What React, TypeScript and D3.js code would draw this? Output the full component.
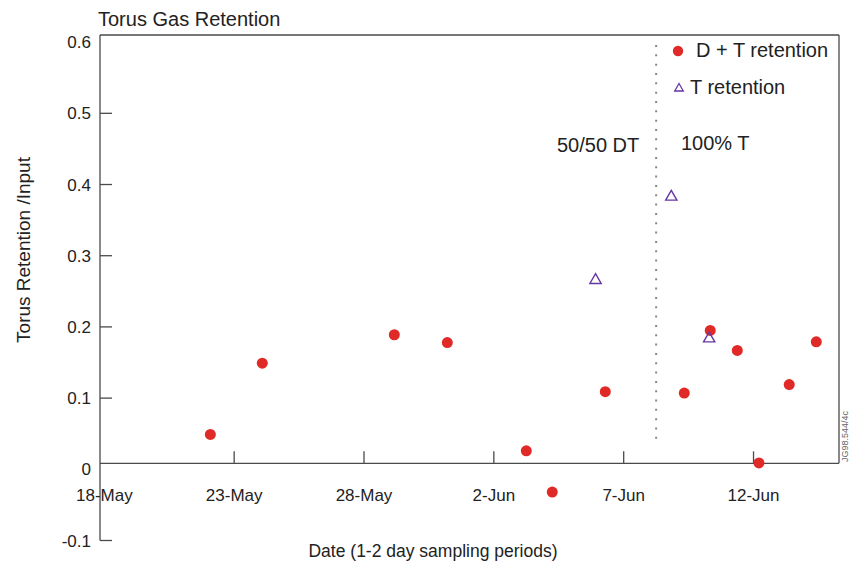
import React from "react";
import * as d3 from "d3";

// ---- data ----
const dtDates = [
  "1998-05-22T02:00Z", "1998-05-24T02:00Z", "1998-05-29T04:00Z", "1998-05-31T05:00Z",
  "1998-06-03T06:00Z", "1998-06-04T06:00Z", "1998-06-06T07:00Z", "1998-06-09T08:00Z",
  "1998-06-10T08:00Z", "1998-06-11T09:00Z", "1998-06-12T05:00Z", "1998-06-13T09:00Z",
  "1998-06-14T10:00Z",
];
const dtValues = [0.049, 0.149, 0.189, 0.178, 0.026, -0.032, 0.109, 0.107, 0.195, 0.167, 0.009, 0.119, 0.179];

const tDates = ["1998-06-05T22:00Z", "1998-06-08T20:00Z", "1998-06-10T07:00Z"];
const tValues = [0.267, 0.384, 0.185];

const xTickDates = ["1998-05-18T00:00Z", "1998-05-23T00:00Z", "1998-05-28T00:00Z", "1998-06-02T00:00Z", "1998-06-07T00:00Z", "1998-06-12T00:00Z"];
const xTickLabels = ["18-May", "23-May", "28-May", "2-Jun", "7-Jun", "12-Jun"];
const yTicks = [-0.1, 0, 0.1, 0.2, 0.3, 0.4, 0.5, 0.6];
const yTickLabels = ["-0.1", "0", "0.1", "0.2", "0.3", "0.4", "0.5", "0.6"];
const yTickMarks = [-0.1, 0.1, 0.2, 0.3, 0.4, 0.5];
const xDomain = ["1998-05-17T20:00Z", "1998-06-15T07:00Z"];
const yDomain = [-0.1, 0.61];
const xAxisAt = 0.0084;
const switchDate = "1998-06-08T06:00Z";

const FONT = "'Liberation Sans', Arial, Helvetica, sans-serif";
const RED = "#e02a27";
const PURPLE = "#6636a3";
const AXIS = "#4a4a4a";
const TEXT = "#222";

export default function App() {
  const p = (s: string) => new Date(s);
  const x = d3.scaleUtc().domain(xDomain.map(p)).range([100, 839]);
  const y = d3.scaleLinear().domain(yDomain).range([540.5, 35]);
  const y0 = y(xAxisAt);
  const tri = d3.symbol().type(d3.symbolTriangle).size(55)();
  const triLeg = d3.symbol().type(d3.symbolTriangle).size(32)();

  return (
    <svg width={850} height={564} style={{ position: "absolute", left: 0, top: 0, background: "#fff" }} fontFamily={FONT}>
      <text x={98} y={26} fontSize={20} fill={TEXT}>Torus Gas Retention</text>

      {/* frame & axes */}
      <line x1={100} x2={100} y1={35} y2={540.5} stroke={AXIS} strokeWidth={1.3} />
      <line x1={100} x2={839} y1={35} y2={35} stroke={AXIS} strokeWidth={1.3} />
      <line x1={839} x2={839} y1={35} y2={y0} stroke={AXIS} strokeWidth={1.3} />
      <line x1={100} x2={839} y1={y0} y2={y0} stroke={AXIS} strokeWidth={1.3} />

      {yTickMarks.map((v) => (
        <line key={"ym" + v} x1={100} x2={112} y1={y(v)} y2={y(v)} stroke={AXIS} strokeWidth={1.3} />
      ))}
      {yTicks.map((v, i) => (
        <text key={"yt" + v} x={91} y={y(v) + 6} textAnchor="end" fontSize={17} fill={TEXT}>
          {yTickLabels[i]}
        </text>
      ))}

      {xTickDates.map((d, i) => (
        <g key={"xt" + i}>
          {i > 0 && <line x1={x(p(d))} x2={x(p(d))} y1={y0} y2={y0 - 12} stroke={AXIS} strokeWidth={1.3} />}
          <text x={x(p(d))} y={501} textAnchor="middle" fontSize={17} fill={TEXT}>{xTickLabels[i]}</text>
        </g>
      ))}

      <text transform="translate(29.5,250) rotate(-90)" textAnchor="middle" fontSize={19} fill={TEXT}>Torus Retention /Input</text>
      <text x={433} y={557} textAnchor="middle" fontSize={17.5} fill={TEXT}>Date (1-2 day sampling periods)</text>

      {/* switch line */}
      <line x1={x(p(switchDate))} x2={x(p(switchDate))} y1={45} y2={443} stroke="#888" strokeWidth={2} strokeDasharray="2,7.33" />
      <text x={557} y={152} fontSize={20} fill={TEXT}>50/50 DT</text>
      <text x={681} y={150} fontSize={20} fill={TEXT}>100% T</text>

      {/* data */}
      {dtDates.map((d, i) => (
        <circle key={"c" + i} cx={x(p(d))} cy={y(dtValues[i])} r={5.5} fill={RED} />
      ))}
      {tDates.map((d, i) => (
        <path key={"t" + i} d={tri!} transform={`translate(${x(p(d))},${y(tValues[i]) + 1})`} fill="none" stroke={PURPLE} strokeWidth={1.4} />
      ))}

      {/* legend */}
      <circle cx={678} cy={51} r={5.2} fill={RED} />
      <text x={696} y={56.5} fontSize={20} fill={TEXT}>D + T retention</text>
      <path d={triLeg!} transform="translate(679,88.5)" fill="none" stroke={PURPLE} strokeWidth={1.3} />
      <text x={690} y={94} fontSize={20} fill={TEXT}>T retention</text>

      <text transform="translate(848,462) rotate(-90)" fontSize={9} fill="#666">JG98.544/4c</text>
    </svg>
  );
}
